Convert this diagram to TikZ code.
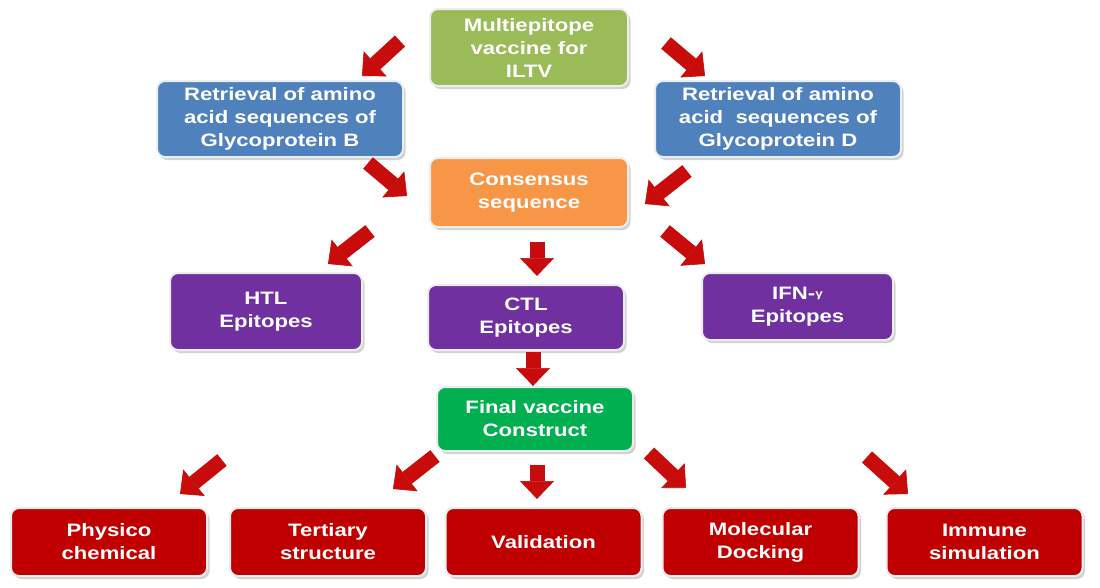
\documentclass[tikz,border=0pt]{standalone}
\usepackage{fontspec}
\newfontfamily\boxfont{Liberation Sans}[FakeStretch=1.23]
\usetikzlibrary{arrows.meta,shadows}
\definecolor{olivebox}{RGB}{155,187,89}
\definecolor{bluebox}{RGB}{79,129,189}
\definecolor{orangebox}{RGB}{247,150,70}
\definecolor{purplebox}{RGB}{112,48,160}
\definecolor{greenbox}{RGB}{0,176,80}
\definecolor{redbox}{RGB}{192,0,0}
\definecolor{arrowred}{RGB}{200,12,12}
\definecolor{boxedge}{RGB}{235,238,240}
\tikzset{
  box/.style={rectangle, rounded corners=8pt, draw=boxedge, line width=2pt,
    text=white, align=center, inner sep=2pt,
    font=\boxfont\bfseries\fontsize{18}{23}\selectfont,
    drop shadow={shadow xshift=2.5pt, shadow yshift=-3pt, opacity=0.35, fill=gray}},
  flow/.style={draw=arrowred, line width=15pt,
    -{Triangle[width=34pt,length=18pt,line width=0.6pt]}, color=arrowred}
}
\begin{document}
\begin{tikzpicture}[x=1pt,y=-1pt]
\useasboundingbox[fill=white] (0,0) rectangle (1100,587);
% boxes
\node[box, fill=olivebox, minimum width=198pt, minimum height=77pt] (multi) at (529,47.5) {Multiepitope\\vaccine for\\ILTV};
\node[box, fill=bluebox, minimum width=246pt, minimum height=76pt] (retB) at (280,119) {Retrieval of amino\\acid sequences of\\Glycoprotein B};
\node[box, fill=bluebox, minimum width=246pt, minimum height=76pt] (retD) at (778,119) {Retrieval of amino\\acid\ \ sequences of\\Glycoprotein D};
\node[box, fill=orangebox, minimum width=198pt, minimum height=69pt] (cons) at (529,192.5) {Consensus\\sequence};
\node[box, fill=purplebox, minimum width=192pt, minimum height=77pt] (htl) at (266,311.5) {HTL\\Epitopes};
\node[box, fill=purplebox, minimum width=196pt, minimum height=65pt] (ctl) at (526,317.5) {CTL\\Epitopes};
\node[box, fill=purplebox, minimum width=191pt, minimum height=67pt] (ifn) at (797.5,306.5) {IFN-\raisebox{2pt}{\fontsize{11}{11}\selectfont γ}\\Epitopes};
\node[box, fill=greenbox, minimum width=196pt, minimum height=64pt] (final) at (535,419) {Final vaccine\\Construct};
\node[box, fill=redbox, minimum width=196pt, minimum height=68pt] (phys) at (109,542) {Physico\\chemical};
\node[box, fill=redbox, minimum width=196pt, minimum height=68pt] (tert) at (328,542) {Tertiary\\structure};
\node[box, fill=redbox, minimum width=196pt, minimum height=68pt] (valid) at (543.5,542) {Validation};
\node[box, fill=redbox, minimum width=196pt, minimum height=68pt] (mol) at (760.5,542) {Molecular\\Docking};
\node[box, fill=redbox, minimum width=196pt, minimum height=68pt] (imm) at (984.5,542) {Immune\\simulation};
% arrow end points
\coordinate (a1s) at (400,41);  \coordinate (a1e) at (362,76);
\coordinate (a2s) at (666,43);  \coordinate (a2e) at (705,76);
\coordinate (a3s) at (368,163); \coordinate (a3e) at (407,196);
\coordinate (a4s) at (687,171); \coordinate (a4e) at (645,204);
\coordinate (a5s) at (370,231); \coordinate (a5e) at (328,264);
\coordinate (a6s) at (665,231); \coordinate (a6e) at (705,264);
\coordinate (a7s) at (537,242); \coordinate (a7e) at (537,276);
\coordinate (a8s) at (533,352); \coordinate (a8e) at (533,386);
\coordinate (b1s) at (222,460); \coordinate (b1e) at (180,494);
\coordinate (b2s) at (435,456); \coordinate (b2e) at (393,489);
\coordinate (b3s) at (537,465); \coordinate (b3e) at (537,499);
\coordinate (b4s) at (649,453); \coordinate (b4e) at (686,488);
\coordinate (b5s) at (867,457); \coordinate (b5e) at (908,494);
% arrows
\foreach \s/\e in {a1s/a1e,a2s/a2e,a3s/a3e,a4s/a4e,a5s/a5e,a6s/a6e,a7s/a7e,a8s/a8e,b1s/b1e,b2s/b2e,b3s/b3e,b4s/b4e,b5s/b5e}
  \draw[flow] (\s) -- (\e);
\end{tikzpicture}
\end{document}
